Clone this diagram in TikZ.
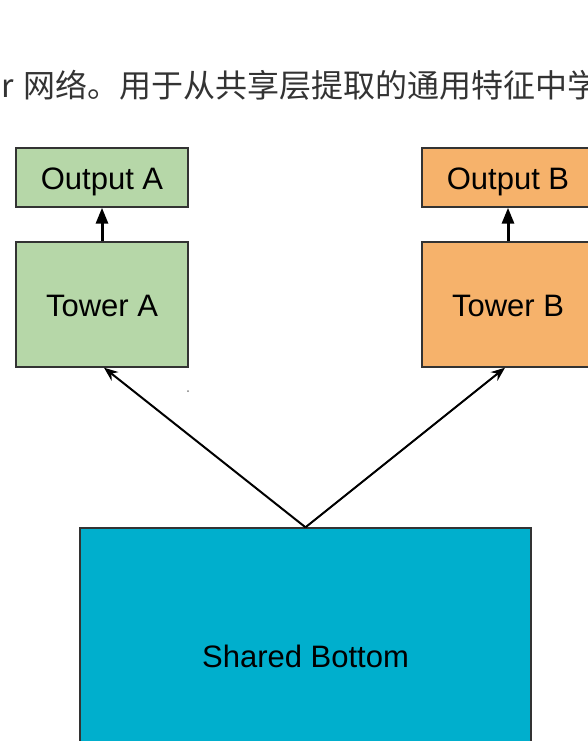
\documentclass[tikz,border=0pt]{standalone}
\usepackage{fontspec}
\setmainfont{Liberation Sans}
\newfontfamily\cjk{Noto Sans CJK SC}
\usetikzlibrary{arrows.meta}
\definecolor{greenfill}{HTML}{B6D7A8}
\definecolor{orangefill}{HTML}{F6B26B}
\definecolor{bluefill}{HTML}{00AFCD}
\definecolor{captiongray}{HTML}{333333}
\definecolor{edgegray}{HTML}{333333}
\begin{document}
\begin{tikzpicture}[x=1pt,y=-1pt,
  box/.style={draw=edgegray, line width=1.4pt, inner sep=0pt,
    font=\fontsize{31}{31}\selectfont, text=black,
    text height=23.6pt, text depth=0pt},
  outbox/.style={box, minimum width=172pt, minimum height=59pt},
  towerbox/.style={box, minimum width=172pt, minimum height=125pt},
  uparrow/.style={line width=3pt, -{Triangle[length=16pt,width=12pt]}},
  diagarrow/.style={line width=2pt, -{Stealth[length=14pt,width=11pt]}},
  caption/.style={inner sep=0pt, text=captiongray, font=\cjk\fontsize{32}{32}\selectfont}]
\useasboundingbox (0,0) rectangle (588,741);
\clip (0,0) rectangle (588,741);

\node[caption, anchor=base east] (capA) at (14,97.5) {er};
\node[caption, anchor=base west] (capB) at (23,97.5) {网络。用于从共享层提取的通用特征中学};

\node[outbox, fill=greenfill] (outA) at (102,177.5) {Output A};
\node[towerbox, fill=greenfill] (towA) at (102,304.5) {Tower A};
\node[outbox, fill=orangefill] (outB) at (508,177.5) {Output B};
\node[towerbox, fill=orangefill] (towB) at (508,304.5) {Tower B};
\node[box, fill=bluefill, minimum width=451pt, minimum height=256pt] (shared) at (305.5,656) {Shared Bottom};

\draw[uparrow] (towA.north) -- (outA.south);
\draw[uparrow] (towB.north) -- (outB.south);
\draw[diagarrow] (shared.north) -- ([xshift=2pt]towA.south);
\draw[diagarrow] (shared.north) -- ([xshift=-3pt]towB.south);

\fill[gray] (188,391) circle (1pt);
\end{tikzpicture}
\end{document}
